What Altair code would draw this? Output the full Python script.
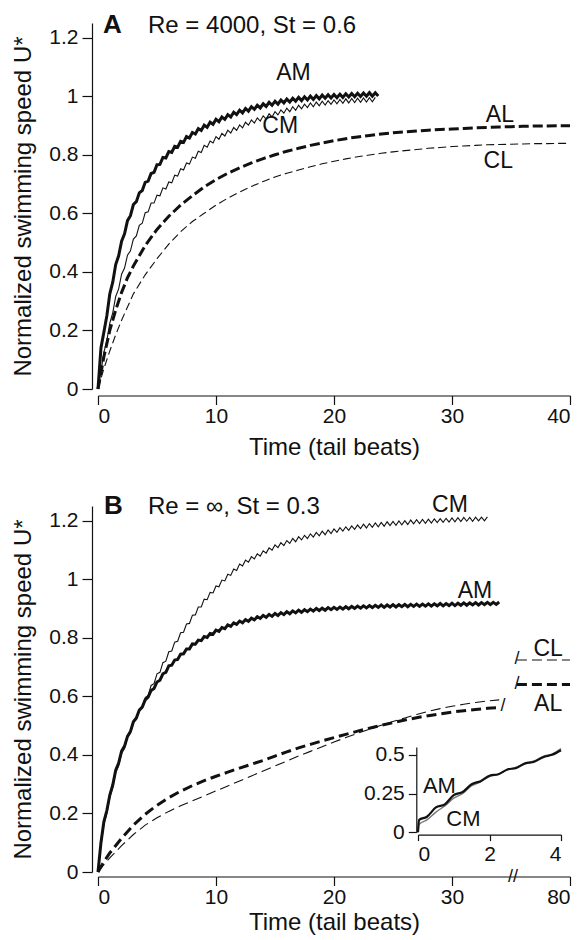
import altair as alt
import pandas as pd

FONT = "Liberation Sans"
INK = "#111111"
STEP = 0.25  # sampling interval (tail beats) of the oscillating curves

# ---------------- Panel A : Re = 4000, St = 0.6 ----------------
A_AM = [0.0, 0.14, 0.195, 0.25, 0.325, 0.365, 0.425, 0.455, 0.505, 0.53, 0.575, 0.592,
        0.63, 0.64, 0.67, 0.678, 0.706, 0.71, 0.736, 0.74, 0.766, 0.767, 0.791, 0.789,
        0.811, 0.808, 0.829, 0.826, 0.846, 0.842, 0.862, 0.857, 0.876, 0.871, 0.889, 0.883,
        0.901, 0.894, 0.911, 0.904, 0.921, 0.913, 0.929, 0.921, 0.937, 0.929, 0.945, 0.937,
        0.952, 0.943, 0.958, 0.949, 0.964, 0.955, 0.969, 0.96, 0.974, 0.965, 0.979, 0.969,
        0.983, 0.973, 0.987, 0.977, 0.99, 0.98, 0.993, 0.983, 0.996, 0.985, 0.998, 0.987,
        1.0, 0.989, 1.002, 0.991, 1.004, 0.993, 1.005, 0.994, 1.006, 0.995, 1.007, 0.996,
        1.008, 0.997, 1.009, 0.998, 1.01, 0.999, 1.011, 1.0, 1.012, 1.0, 1.012, 1.001]
A_CM = [0.0, 0.06, 0.125, 0.165, 0.225, 0.26, 0.316, 0.342, 0.392, 0.413, 0.457, 0.472,
        0.512, 0.523, 0.559, 0.566, 0.602, 0.605, 0.635, 0.635, 0.662, 0.66, 0.687, 0.683,
        0.707, 0.704, 0.73, 0.727, 0.752, 0.748, 0.772, 0.768, 0.792, 0.788, 0.812, 0.808,
        0.832, 0.826, 0.847, 0.84, 0.862, 0.853, 0.873, 0.864, 0.884, 0.874, 0.893, 0.883,
        0.902, 0.892, 0.911, 0.901, 0.919, 0.908, 0.926, 0.915, 0.933, 0.922, 0.94, 0.929,
        0.947, 0.936, 0.953, 0.942, 0.959, 0.947, 0.964, 0.952, 0.969, 0.957, 0.973, 0.961,
        0.977, 0.964, 0.98, 0.967, 0.983, 0.97, 0.985, 0.972, 0.987, 0.974, 0.989, 0.976,
        0.991, 0.977, 0.992, 0.978, 0.993, 0.979, 0.994, 0.98, 0.995, 0.981, 0.996]
A_SLOW_T = [0, 0.5, 1, 1.5, 2, 2.5, 3] + list(range(4, 41))
A_AL = [0.0, 0.11, 0.2, 0.27, 0.33, 0.38, 0.42,
        0.49, 0.545, 0.59, 0.628, 0.66, 0.69, 0.715, 0.737, 0.755, 0.772, 0.787, 0.8,
        0.812, 0.822, 0.832, 0.84, 0.848, 0.855, 0.861, 0.866, 0.871, 0.875, 0.878, 0.881,
        0.884, 0.886, 0.888, 0.89, 0.892, 0.893, 0.895, 0.896, 0.897, 0.898, 0.898, 0.899, 0.899]
A_CL = [0.0, 0.07, 0.13, 0.185, 0.235, 0.28, 0.325,
        0.39, 0.445, 0.495, 0.537, 0.572, 0.6, 0.628, 0.652, 0.673, 0.692, 0.709, 0.724,
        0.737, 0.748, 0.759, 0.769, 0.778, 0.786, 0.793, 0.799, 0.805, 0.81, 0.814, 0.818,
        0.822, 0.825, 0.828, 0.83, 0.832, 0.834, 0.835, 0.836, 0.837, 0.838, 0.838, 0.839, 0.839]
A_LABELS = ["AM", "CM", "AL", "CL"]
A_LABEL_T = [16.56, 15.44, 34.06, 33.92]
A_LABEL_V = [1.079, 0.897, 0.937, 0.777]

# ---------------- Panel B : Re = inf, St = 0.3 ----------------
B_AM = [0.0, 0.1, 0.172, 0.21, 0.263, 0.297, 0.348, 0.372, 0.413, 0.43, 0.463, 0.48,
        0.513, 0.526, 0.553, 0.563, 0.588, 0.597, 0.62, 0.627, 0.649, 0.655, 0.677, 0.682,
        0.704, 0.706, 0.724, 0.726, 0.744, 0.745, 0.762, 0.762, 0.779, 0.778, 0.792, 0.79,
        0.804, 0.801, 0.815, 0.812, 0.826, 0.822, 0.835, 0.831, 0.844, 0.839, 0.851, 0.846,
        0.857, 0.851, 0.862, 0.856, 0.867, 0.861, 0.872, 0.866, 0.876, 0.87, 0.88, 0.873,
        0.883, 0.876, 0.886, 0.879, 0.889, 0.882, 0.892, 0.885, 0.894, 0.887, 0.896, 0.889,
        0.898, 0.891, 0.9, 0.893, 0.901, 0.894, 0.903, 0.896, 0.904, 0.897, 0.905, 0.898,
        0.906, 0.899, 0.907, 0.9, 0.908, 0.901, 0.909, 0.902, 0.91, 0.903, 0.911, 0.904,
        0.912, 0.904, 0.912, 0.905, 0.913, 0.905, 0.913, 0.906, 0.914, 0.906, 0.914, 0.907,
        0.915, 0.907, 0.915, 0.908, 0.916, 0.908, 0.916, 0.909, 0.917, 0.909, 0.917, 0.91,
        0.918, 0.91, 0.918, 0.911, 0.919, 0.911, 0.919, 0.912, 0.92, 0.912, 0.92, 0.913,
        0.921, 0.913, 0.921, 0.914, 0.922]
B_CM = [0.0, 0.09, 0.163, 0.2, 0.255, 0.288, 0.34, 0.363, 0.406, 0.422, 0.461, 0.474,
        0.511, 0.521, 0.556, 0.564, 0.596, 0.603, 0.637, 0.643, 0.677, 0.682, 0.715, 0.72,
        0.752, 0.755, 0.785, 0.788, 0.817, 0.819, 0.847, 0.849, 0.877, 0.878, 0.905, 0.905,
        0.932, 0.93, 0.955, 0.953, 0.977, 0.974, 0.997, 0.994, 1.017, 1.013, 1.035, 1.03,
        1.052, 1.045, 1.065, 1.058, 1.077, 1.069, 1.087, 1.079, 1.097, 1.089, 1.107, 1.099,
        1.117, 1.108, 1.125, 1.115, 1.132, 1.122, 1.139, 1.128, 1.145, 1.134, 1.15, 1.139,
        1.155, 1.144, 1.16, 1.148, 1.164, 1.152, 1.168, 1.156, 1.172, 1.16, 1.176, 1.164,
        1.179, 1.167, 1.182, 1.17, 1.185, 1.173, 1.188, 1.175, 1.19, 1.177, 1.192, 1.179,
        1.194, 1.181, 1.196, 1.183, 1.197, 1.184, 1.199, 1.186, 1.2, 1.187, 1.202, 1.189,
        1.203, 1.19, 1.204, 1.191, 1.205, 1.192, 1.206, 1.193, 1.207, 1.194, 1.208, 1.195,
        1.209, 1.196, 1.21, 1.197, 1.211, 1.198, 1.211, 1.198, 1.212, 1.199, 1.212, 1.199,
        1.213]
B_SLOW_T = [0, 0.5] + list(range(1, 35))
B_AL = [0.0, 0.035,
        0.065, 0.115, 0.16, 0.197, 0.228, 0.254, 0.276, 0.295, 0.312, 0.327, 0.341, 0.355,
        0.368, 0.381, 0.396, 0.41, 0.424, 0.436, 0.448, 0.459, 0.47, 0.481, 0.491, 0.501,
        0.51, 0.519, 0.527, 0.534, 0.54, 0.546, 0.551, 0.555, 0.559, 0.562]
B_CL = [0.0, 0.025,
        0.048, 0.09, 0.128, 0.16, 0.185, 0.207, 0.226, 0.243, 0.26, 0.277, 0.294, 0.311,
        0.328, 0.345, 0.362, 0.379, 0.396, 0.412, 0.428, 0.444, 0.459, 0.474, 0.488, 0.501,
        0.514, 0.526, 0.538, 0.549, 0.558, 0.566, 0.573, 0.579, 0.584, 0.588]
B_TAIL_T = [75.5, 80.0]          # after the axis break
B_TAIL_CL = [0.724, 0.724]
B_TAIL_AL = [0.64, 0.64]
BREAK_SHIFT = 40                 # 40..75 tail beats are cut out of the axis
B_LABELS = ["CM", "AM", "CL", "AL"]
B_LABEL_T = [29.83, 31.95, 38.15, 38.15]
B_LABEL_V = [1.252, 0.961, 0.762, 0.575]
CURVE_BREAK_T = [34.33, 35.5, 35.5]
CURVE_BREAK_V = [0.566, 0.726, 0.642]

# inset of panel B (first 4 tail beats)
INSET_T = [0, 0.03, 0.25, 0.5, 0.75, 1.0, 1.25, 1.5, 1.75, 2.0, 2.25, 2.5, 2.75, 3.0,
           3.25, 3.5, 3.75, 4.0]
INSET_AM = [0.0, 0.08, 0.1, 0.16, 0.18, 0.24, 0.26, 0.31, 0.33, 0.365, 0.375, 0.405,
            0.415, 0.445, 0.455, 0.485, 0.5, 0.53]
INSET_CM = [0.0, 0.05, 0.08, 0.13, 0.17, 0.22, 0.25, 0.3, 0.325, 0.36, 0.375, 0.405,
            0.42, 0.447, 0.46, 0.49, 0.505, 0.54]
INSET_LABELS = ["AM", "CM"]
INSET_LABEL_T = [0.6, 1.27]
INSET_LABEL_V = [0.3, 0.088]

X_TICKS = [0, 10, 20, 30, 40]
Y_TICKS = [0, 0.2, 0.4, 0.6, 0.8, 1.0, 1.2]
INSET_X_TICKS = [0, 2, 4]
INSET_Y_TICKS = [0, 0.25, 0.5]
PANELS = ["A", "B"]
CONDITIONS = ["Re = 4000, St = 0.6", "Re = \u221e, St = 0.3"]

W, H = 472, 366


def frame(t, v, s=None):
    n = min(len(t), len(v))
    d = {"t": list(t[:n]), "v": list(v[:n])}
    if s is not None:
        d["s"] = list(s[:n])
    return pd.DataFrame(d)


def osc(v):
    return frame([i * STEP for i in range(len(v))], v)


def xenc(offset, label_pad, title_pad, field="t", label_expr=None):
    ax = dict(values=X_TICKS, title="Time (tail beats)", offset=offset, tickSize=9,
              labelPadding=label_pad, titlePadding=title_pad, format="d")
    if label_expr:
        ax["labelExpr"] = label_expr
    return alt.X(f"{field}:Q", scale=alt.Scale(domain=[0, 40], nice=False, zero=False),
                 axis=alt.Axis(**ax))


def yenc():
    return alt.Y("v:Q", scale=alt.Scale(domain=[0, 1.25], nice=False),
                 axis=alt.Axis(values=Y_TICKS, format=".1~f",
                               title="Normalized swimming speed U*", offset=6,
                               tickSize=10, labelPadding=4, titlePadding=13))


def curve(df, x, y, width, dash=None, color=INK, interp="linear"):
    kw = dict(strokeWidth=width, color=color, interpolate=interp)
    if dash:
        kw["strokeDash"] = dash
    return alt.Chart(df).mark_line(**kw).encode(x=x, y=y)


def labels(df, x, y, size=23):
    return alt.Chart(df).mark_text(font=FONT, fontSize=size, color=INK, align="center",
                                   baseline="middle").encode(x=x, y=y, text="s:N")


def heading(i, lx, ly):
    d = pd.DataFrame({"p": [PANELS[i]], "c": [CONDITIONS[i]]})
    letter = alt.Chart(d).mark_text(font=FONT, fontSize=26, fontWeight="bold", color=INK,
                                    align="left", baseline="alphabetic").encode(
        x=alt.value(lx), y=alt.value(ly), text="p:N")
    cond = alt.Chart(d).mark_text(font=FONT, fontSize=24, color=INK, align="left",
                                  baseline="alphabetic").encode(
        x=alt.value(50), y=alt.value(ly), text="c:N")
    return letter + cond


# ---------- Panel A ----------
xa = xenc(6.5, 1, 9)
ya = yenc()
panel_a = alt.layer(
    curve(osc(A_CM), xa, ya, 1.1),
    curve(osc(A_AM), xa, ya, 3.0),
    curve(frame(A_SLOW_T, A_AL), xa, ya, 3.0, dash=[10, 4]),
    curve(frame(A_SLOW_T, A_CL), xa, ya, 1.1, dash=[8, 4]),
    labels(frame(A_LABEL_T, A_LABEL_V, A_LABELS), xa, ya),
    heading(0, 5, 10),
).properties(width=W, height=H)

# ---------- Panel B ----------
xb = xenc(4.5, 1, 3, label_expr="datum.value == 40 ? '80' : datum.label")
xb_tail = xenc(4.5, 1, 3, field="tp", label_expr="datum.value == 40 ? '80' : datum.label")
yb = yenc()


def tail(vals, width, dash):
    df = frame(B_TAIL_T, vals)
    return alt.Chart(df).transform_calculate(tp=f"datum.t - {BREAK_SHIFT}").mark_line(
        strokeWidth=width, color=INK, strokeDash=dash).encode(x=xb_tail, y=yb)


breaks_df = frame(CURVE_BREAK_T, CURVE_BREAK_V, ["/", "/", "/"])
axis_break_df = frame([35.17], [0.0], ["//"])

main_b = alt.layer(
    curve(osc(B_CM), xb, yb, 1.1),
    curve(osc(B_AM), xb, yb, 3.0),
    curve(frame(B_SLOW_T, B_AL), xb, yb, 3.0, dash=[10, 5]),
    curve(frame(B_SLOW_T, B_CL), xb, yb, 1.1, dash=[10, 5]),
    tail(B_TAIL_CL, 1.1, [10, 5]),
    tail(B_TAIL_AL, 3.0, [10, 5]),
    alt.Chart(breaks_df).mark_text(font=FONT, fontSize=18, color=INK).encode(
        x=xb, y=yb, text="s:N"),
    alt.Chart(axis_break_df).mark_text(font=FONT, fontSize=18, color=INK, dy=5).encode(
        x=xb, y=yb, text="s:N"),
    labels(frame(B_LABEL_T, B_LABEL_V, B_LABELS), xb, yb),
    heading(1, 6, 8),
)

ix = alt.X("t:Q", scale=alt.Scale(domain=[0, 4], range=[320, 463], nice=False, zero=False),
           axis=alt.Axis(orient="bottom", offset=-37.4, values=INSET_X_TICKS, format="d",
                         title=None, tickSize=6, labelPadding=3))
iy = alt.Y("v:Q", scale=alt.Scale(domain=[0, 0.55], range=[326.2, 241.1], nice=False),
           axis=alt.Axis(orient="left", offset=-318.3, values=INSET_Y_TICKS,
                         labelExpr="toString(datum.value)",
                         title=None, tickSize=8, labelPadding=4))
inset = alt.layer(
    curve(frame(INSET_T, INSET_CM), ix, iy, 1.4, color="#777777", interp="monotone"),
    curve(frame(INSET_T, INSET_AM), ix, iy, 2.2, interp="monotone"),
    labels(frame(INSET_LABEL_T, INSET_LABEL_V, INSET_LABELS), ix, iy, size=22),
)

panel_b = alt.layer(main_b, inset).resolve_scale(x="independent", y="independent").properties(
    width=W, height=H)

chart = alt.vconcat(panel_a, panel_b, spacing=33).properties(
    padding={"left": 3, "top": 4, "right": 0, "bottom": 0}
).configure_view(stroke=None).configure_axis(
    grid=False, domainColor=INK, tickColor=INK, labelColor=INK, titleColor=INK,
    labelFont=FONT, titleFont=FONT, labelFontSize=21, titleFontSize=24,
    titleFontWeight="normal", domainWidth=1.2, tickWidth=1.2
)

chart.save("out.html", embed_options={"renderer": "svg", "actions": False})
